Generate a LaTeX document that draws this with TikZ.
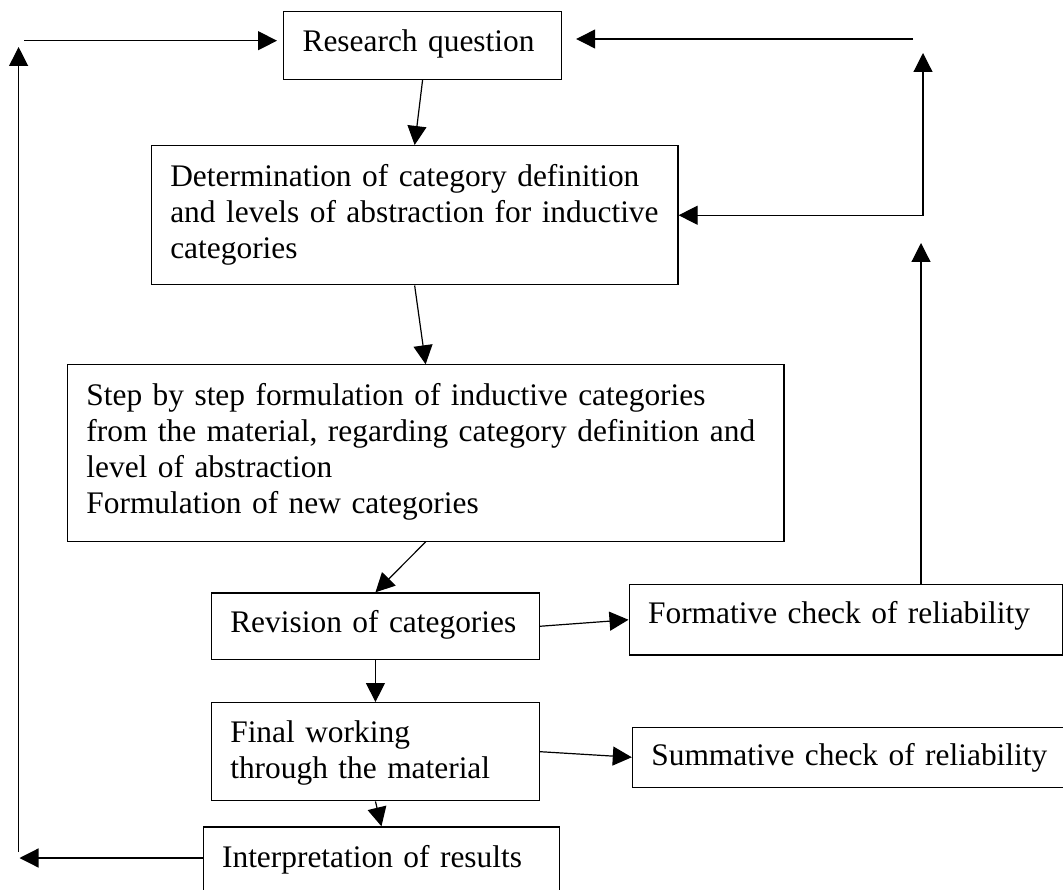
\documentclass[tikz,border=0pt]{standalone}
\usepackage{fontspec}
\setmainfont{Liberation Serif}
\usetikzlibrary{arrows.meta}

\tikzset{
  box/.style={draw,line width=1.2pt,anchor=north west,align=left,inner xsep=19pt,inner ysep=0pt},
  tip/.style={-{Triangle[length=19pt,width=19pt]},line width=1.2pt},
  tips/.style={{Triangle[length=19pt,width=19pt]}-{Triangle[length=19pt,width=19pt]},line width=1.2pt}
}

\begin{document}
\begin{tikzpicture}[x=1pt,y=-1pt,font=\fontsize{31.4}{36}\selectfont]
        \useasboundingbox (0,0) rectangle (1063,890);
        \clip (0,0) rectangle (1063,890);

        \node[box,text width=240pt,text height=39.8pt,text depth=28.2pt] (rq) at (283,10.7) {Research question};
        \node[box,text width=488.7pt,text height=40.5pt,text depth=98.8pt] (det) at (150.7,145) {Determination of category definition\\and levels of abstraction for inductive\\categories};
        \node[box,text width=678.5pt,text height=40.7pt,text depth=135.7pt] (step) at (66.8,364.3) {Step by step formulation of inductive categories\\from the material, regarding category definition and\\level of abstraction\\Formulation of new categories};
        \node[box,text width=290.3pt,text height=39.4pt,text depth=27.3pt] (rev) at (210.7,592.3) {Revision of categories};
        \node[box,text width=290.3pt,text height=39.7pt,text depth=58.5pt] (fin) at (210.7,702) {Final working\\through the material};
        \node[box,text width=318.7pt,text height=40.4pt,text depth=28.6pt] (intp) at (202.5,826.3) {Interpretation of results};
        \node[box,text width=395pt,text height=39.3pt,text depth=31pt] (form) at (628.5,584) {Formative check of reliability};
        \node[box,text width=407pt,text height=38.2pt,text depth=21.5pt] (summ) at (631.8,726.8) {Summative check of reliability};

        \coordinate (tl) at (24,40.7);
        \coordinate (tr) at (913,39);
        \coordinate (lt) at (18.6,47);
        \coordinate (lb) at (18.6,852);
        \coordinate (ll) at (19.5,858);
        \coordinate (rt) at (923,53);
        \coordinate (ft) at (921,243);

        \draw[tip] (rq.south) -- (det.north);
        \draw[tip] (det.south) -- (step.north);
        \draw[tip] (step.south) -- (rev.north);
        \draw[tip] (rev.south) -- (fin.north);
        \draw[tip] (fin.south) -- (intp.north);
        \draw[tip] (rev.east) -- (form.west);
        \draw[tip] (fin.east) -- (summ.west);
        \draw[tip] (form.north -| ft) -- (ft);
        \draw[tip] (ll -| intp.west) -- (ll);
        \draw[tip] (lb) -- (lt);
        \draw[tip,shorten >=6pt] (tl) -- (tl -| rq.west);
        \draw[tip,shorten >=14pt] (tr) -- (tr -| rq.east);
        \draw[tips] (det.east) -| (rt);
\end{tikzpicture}
\end{document}
